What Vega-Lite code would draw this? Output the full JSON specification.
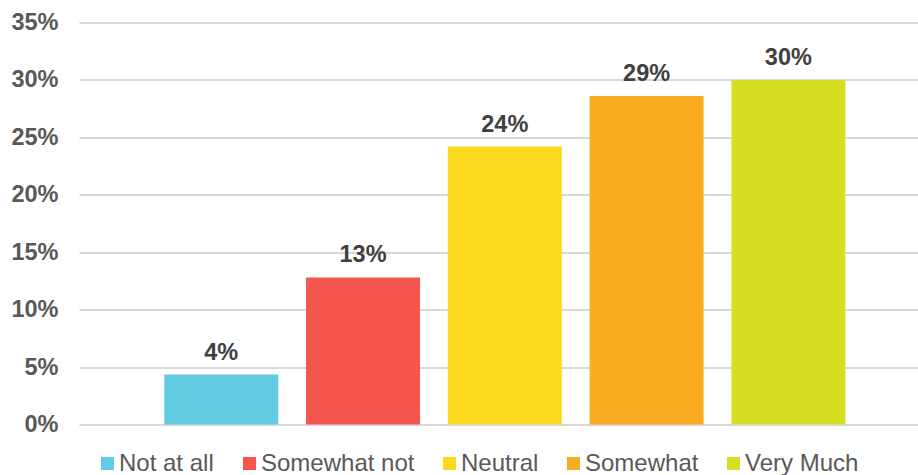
{
  "$schema": "https://vega.github.io/schema/vega-lite/v6.json",
  "width": 839,
  "height": 402,
  "autosize": "none",
  "padding": {"left": 79, "top": 22.5, "right": 0, "bottom": 50.5},
  "config": {
    "view": {"stroke": null},
    "font": "Liberation Sans"
  },
  "data": {
    "values": [
      {"response": "Not at all", "share": 0.0435},
      {"response": "Somewhat not", "share": 0.128},
      {"response": "Neutral", "share": 0.242},
      {"response": "Somewhat", "share": 0.286},
      {"response": "Very Much", "share": 0.300}
    ]
  },
  "encoding": {
    "x": {
      "field": "response",
      "type": "nominal",
      "sort": null,
      "axis": null,
      "scale": {"paddingInner": 0.196, "paddingOuter": 0.557, "align": 0.54}
    },
    "y": {
      "field": "share",
      "type": "quantitative",
      "scale": {"domain": [0, 0.35], "nice": false},
      "axis": {
        "title": null,
        "format": ".0%",
        "values": [0, 0.05, 0.1, 0.15, 0.2, 0.25, 0.3, 0.35],
        "domain": false,
        "ticks": false,
        "labelPadding": 21,
        "labelFont": "Liberation Sans",
        "labelFontSize": 23.5,
        "labelFontWeight": "bold",
        "labelColor": "#595959",
        "labelFlush": false,
        "gridColor": "#d9d9d9",
        "gridWidth": 2
      }
    }
  },
  "layer": [
    {
      "mark": {"type": "bar"},
      "encoding": {
        "color": {
          "field": "response",
          "type": "nominal",
          "scale": {
            "domain": ["Not at all", "Somewhat not", "Neutral", "Somewhat", "Very Much"],
            "range": ["#63CBE2", "#F5574F", "#FAD91E", "#FAAD22", "#D6DF22"]
          },
          "legend": {
            "orient": "none",
            "direction": "horizontal",
            "columns": 5,
            "legendX": 16.5,
            "legendY": 429,
            "padding": 0,
            "title": null,
            "symbolType": "square",
            "symbolSize": 169,
            "symbolStrokeWidth": 0,
            "symbolOpacity": 1,
            "labelFont": "Liberation Sans",
            "labelFontSize": 24,
            "labelColor": "#595959",
            "labelOffset": -0.5,
            "columnPadding": 23
          }
        }
      }
    },
    {
      "mark": {
        "type": "text",
        "dy": -15,
        "baseline": "alphabetic",
        "fontWeight": "bold",
        "fontSize": 23.5,
        "font": "Liberation Sans",
        "color": "#404040"
      },
      "encoding": {
        "text": {"field": "share", "format": ".0%"}
      }
    }
  ]
}
